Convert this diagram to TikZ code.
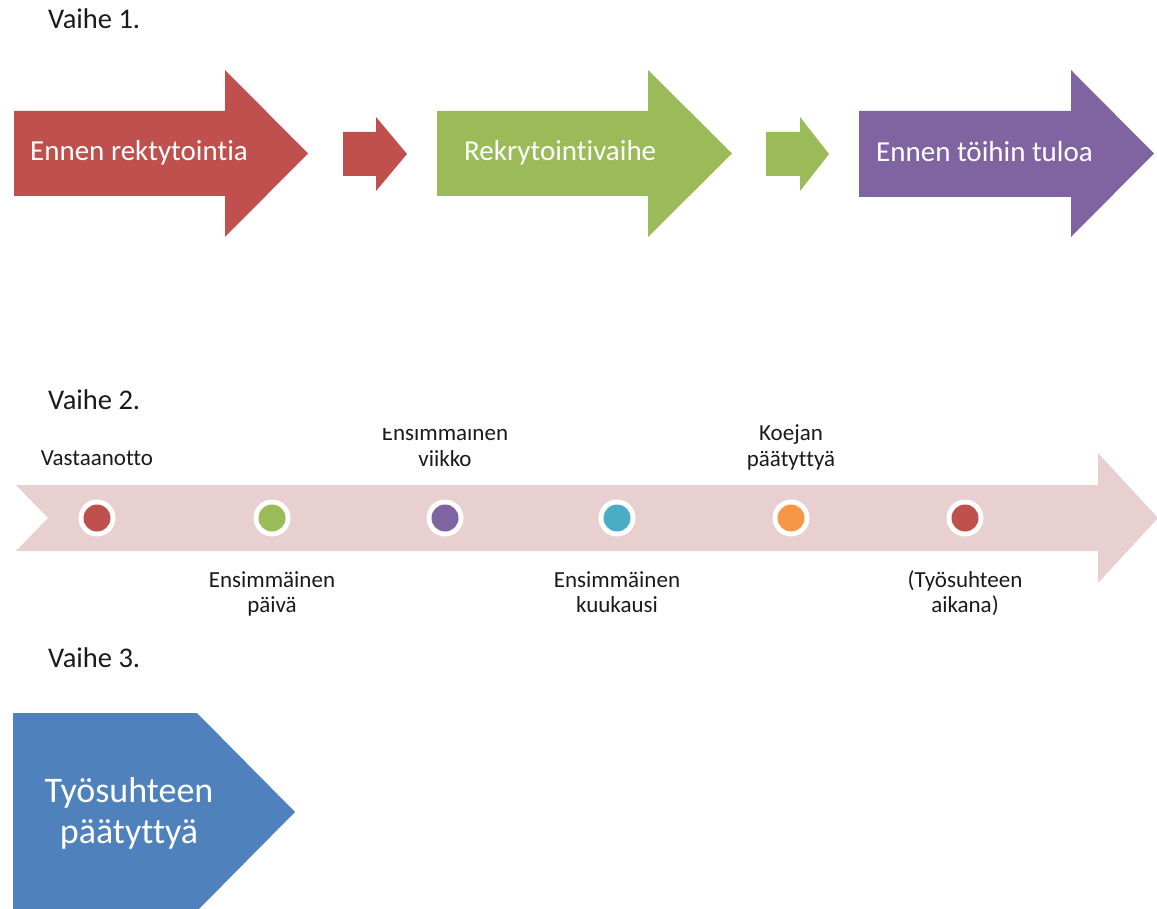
\documentclass[tikz,border=0pt]{standalone}
\usepackage{fontspec}
\setmainfont{Carlito}[Ligatures={NoCommon}]
\definecolor{cred}{HTML}{C0504D}
\definecolor{cgreen}{HTML}{9BBB59}
\definecolor{cpurple}{HTML}{8064A2}
\definecolor{cteal}{HTML}{4BACC6}
\definecolor{corange}{HTML}{F79646}
\definecolor{cblue}{HTML}{4F81BD}
\definecolor{cband}{HTML}{E8CFD0}
\definecolor{ctext}{HTML}{1A1A1A}
\begin{document}
\begin{tikzpicture}[x=1pt,y=-1pt,
  phase/.style={font=\fontsize{28.5}{34}\selectfont, text=ctext, anchor=base west, inner sep=0pt},
  arrowlbl/.style={font=\fontsize{29}{35}\selectfont, text=white, anchor=base west, inner sep=0pt},
  tl/.style={font=\fontsize{23}{25.5}\selectfont, text=ctext, anchor=base, inner sep=0pt},
  ring/.style={circle, fill=white, minimum size=37pt, inner sep=0pt},
  dot/.style={circle, fill=#1, minimum size=27pt, inner sep=0pt},
  bigtxt/.style={font=\fontsize{36}{41}\selectfont, text=white, anchor=base, inner sep=0pt}
]
\useasboundingbox (0,0) rectangle (1157,909);
\clip (0,0) rectangle (1157,909);

% Vaihe 1
\node[phase] (v1) at (48,29) {Vaihe 1.};
\fill[cred] (14,111) -- (225,111) -- (225,70) -- (308,153.5) -- (225,237) -- (225,196) -- (14,196) -- cycle;
\fill[cred] (343,132) -- (376,132) -- (376,117) -- (407,154) -- (376,191) -- (376,176) -- (343,176) -- cycle;
\fill[cgreen] (437,111) -- (648,111) -- (648,70) -- (732,153.5) -- (648,237) -- (648,196) -- (437,196) -- cycle;
\fill[cgreen] (766,132) -- (800,132) -- (800,117) -- (829,154) -- (800,191) -- (800,176) -- (766,176) -- cycle;
\fill[cpurple] (859,111) -- (1071,111) -- (1071,70) -- (1154,153.5) -- (1071,237) -- (1071,197) -- (859,197) -- cycle;
\node[arrowlbl] (a1) at (30,161) {Ennen rektytointia};
\node[arrowlbl] (a2) at (464,161) {Rekrytointivaihe};
\node[arrowlbl] (a3) at (876,162) {Ennen töihin tuloa};

% Vaihe 2
\node[phase] (v2) at (48,409) {Vaihe 2.};
\fill[cband] (16,485) -- (1098,485) -- (1098,453) -- (1158,518) -- (1098,583) -- (1098,551) -- (16,551) -- (48,518) -- cycle;
\foreach \x/\c/\n in {97/cred/d1, 272/cgreen/d2, 445/cpurple/d3, 617/cteal/d4, 791/corange/d5, 965/cred/d6}{
  \node[ring] (r\n) at (\x,518) {};
  \node[dot=\c] (\n) at (\x,518) {};
}
\node[tl] (l1) at (97,465) {Vastaanotto};
\begin{scope}
  \clip (360,428) rectangle (530,480);
  \node[tl] (l3) at (445,466) {\begin{tabular}[b]{@{}c@{}}Ensimmäinen\\viikko\end{tabular}};
\end{scope}
\node[tl] (l5) at (791,466) {\begin{tabular}[b]{@{}c@{}}Koejan\\päätyttyä\end{tabular}};
\node[tl] (l2) at (272,587) {\begin{tabular}[t]{@{}c@{}}Ensimmäinen\\päivä\end{tabular}};
\node[tl] (l4) at (617,587) {\begin{tabular}[t]{@{}c@{}}Ensimmäinen\\kuukausi\end{tabular}};
\node[tl] (l6) at (965,587) {\begin{tabular}[t]{@{}c@{}}(Työsuhteen\\aikana)\end{tabular}};

% Vaihe 3
\node[phase] (v3) at (48,667) {Vaihe 3.};
\fill[cblue] (13,713) -- (197,713) -- (295,812) -- (197,911) -- (13,911) -- cycle;
\node[bigtxt] (b1) at (129,802) {\begin{tabular}[t]{@{}c@{}}Työsuhteen\\päätyttyä\end{tabular}};
\end{tikzpicture}
\end{document}
